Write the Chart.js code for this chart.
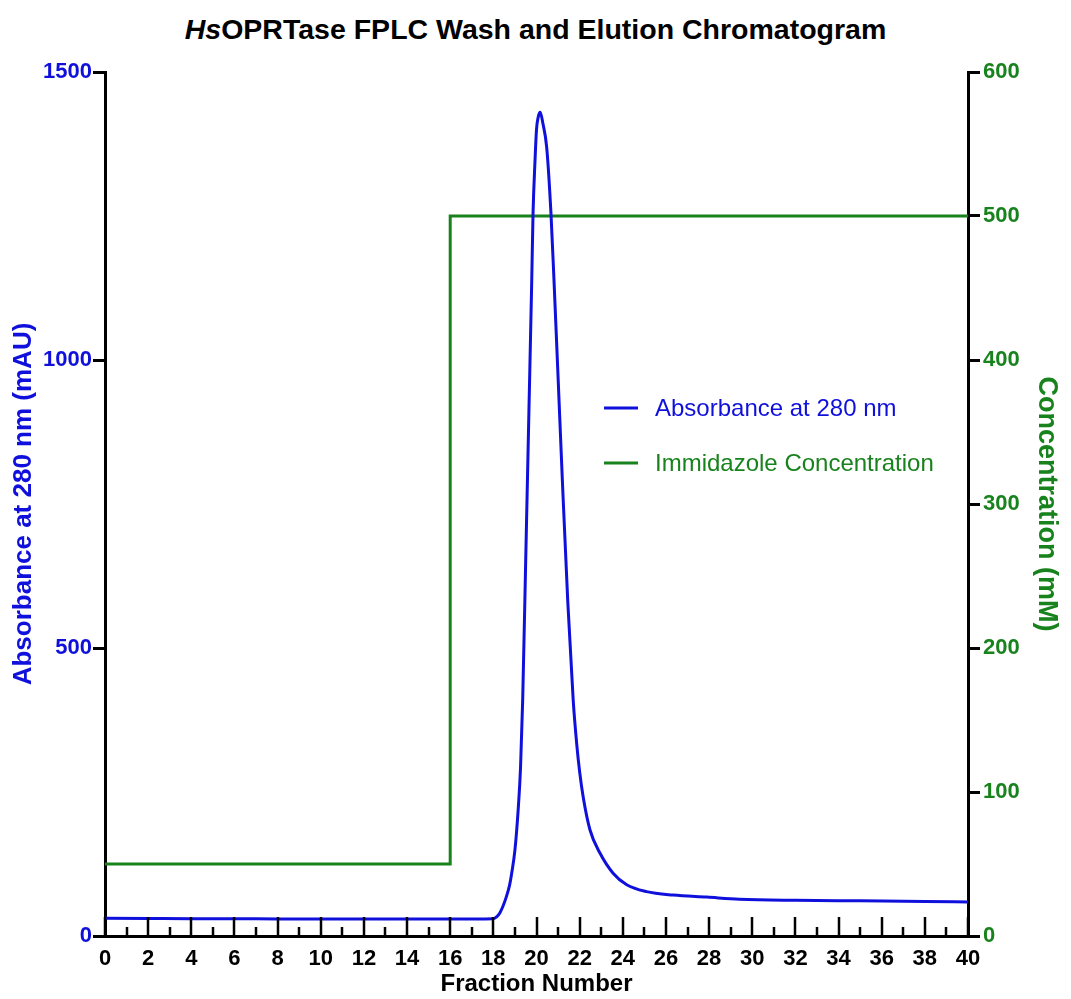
<!DOCTYPE html>
<html>
<head>
<meta charset="utf-8">
<title>HsOPRTase FPLC Wash and Elution Chromatogram</title>
<script src="https://cdn.jsdelivr.net/npm/chart.js@4.4.1/dist/chart.umd.min.js"></script>
<style>
  html, body { margin:0; padding:0; background:#fff; }
  #wrap { position:relative; width:1071px; height:999px; }
  #title {
    position:absolute; left:0; top:13px; width:1071px; text-align:center;
    font:bold 28.5px "Liberation Sans", Arial, sans-serif; color:#000;
  }
  canvas { position:absolute; left:0; top:0; }
</style>
</head>
<body>
<div id="wrap">
  <div id="title"><i>Hs</i>OPRTase FPLC Wash and Elution Chromatogram</div>
  <canvas id="chrom" width="1071" height="999"></canvas>
</div>
<script>
/* fraction numbers and A280 readings along the run */
var fractionX = [0, 2, 4, 6, 8, 10, 12, 14, 16, 18, 18.15, 18.3, 18.45, 18.6, 18.75, 18.85, 19.0,
  19.15, 19.26, 19.36, 19.5, 19.65, 19.78, 19.84, 19.93, 20.0, 20.08, 20.17, 20.3, 20.47, 20.67,
  20.81, 21.0, 21.2, 21.45, 21.7, 21.86, 22.0, 22.17, 22.48, 22.94, 23.55, 24.18, 25.1, 26.33,
  27.9, 29.4, 32, 35, 38, 40];
var absorbance = [31, 30.5, 30, 30, 29.5, 29.5, 29.5, 29.5, 29.5, 30, 33, 40, 52, 68, 88, 109, 149,
  219, 293, 410, 653, 913, 1139, 1255, 1345, 1400, 1422, 1430, 1410, 1370, 1255,
  1139, 970, 790, 580, 410, 335, 285, 240, 184, 144, 109, 89, 77, 71,
  67.5, 64, 62, 61, 60, 59];

/* imidazole step gradient (mM) */
var imidX = [0, 16, 16, 40];
var imidConc = [50, 50, 500, 500];

var leftTicks = [0, 500, 1000, 1500];
var rightTicks = [0, 100, 200, 300, 400, 500, 600];
var xTickStep = 2;

var BLUE = '#1010dc';
var GREEN = '#18821c';
var FONT = '"Liberation Sans", Arial, sans-serif';

function pts(xs, ys){
  return xs.map(function(x, i){ return {x:x, y:ys[i]}; });
}

// inward x ticks: long at even fractions, short at odd ones
var fractionTicks = {
  id:'fractionTicks',
  afterDraw:function(chart){
    var xs = chart.scales.x, ctx = chart.ctx, y0 = chart.chartArea.bottom;
    ctx.save();
    ctx.strokeStyle = '#000';
    ctx.lineWidth = 2.5;
    for(var i = xs.min; i <= xs.max; i++){
      var px = Math.round(xs.getPixelForValue(i));
      var len = (i % 2 === 0) ? 19 : 9;
      ctx.beginPath();
      ctx.moveTo(px, y0);
      ctx.lineTo(px, y0 - len);
      ctx.stroke();
    }
    ctx.restore();
  }
};

// legend sitting inside the plot
var innerLegend = {
  id:'innerLegend',
  afterDraw:function(chart){
    var ctx = chart.ctx;
    ctx.save();
    ctx.font = '24px ' + FONT;
    ctx.textBaseline = 'middle';
    chart.data.datasets.forEach(function(ds, i){
      var y = 408 + i * 55;
      ctx.strokeStyle = ds.borderColor;
      ctx.lineWidth = 3;
      ctx.beginPath();
      ctx.moveTo(604, y);
      ctx.lineTo(638, y);
      ctx.stroke();
      ctx.fillStyle = ds.borderColor;
      ctx.fillText(ds.label, 655, y + 1);
    });
    ctx.restore();
  }
};

new Chart(document.getElementById('chrom'), {
  type:'line',
  data:{
    datasets:[{
      label:'Absorbance at 280 nm',
      data:pts(fractionX, absorbance),
      yAxisID:'y',
      borderColor:BLUE,
      borderWidth:3,
      pointRadius:0,
      cubicInterpolationMode:'monotone',
      fill:false
    },{
      label:'Immidazole Concentration',
      data:pts(imidX, imidConc),
      yAxisID:'y2',
      borderColor:GREEN,
      borderWidth:3,
      pointRadius:0,
      tension:0,
      fill:false
    }]
  },
  options:{
    responsive:false,
    animation:false,
    layout:{padding:{top:72, left:0, right:0, bottom:0}},
    plugins:{
      legend:{display:false},
      tooltip:{enabled:false}
    },
    scales:{
      x:{
        type:'linear',
        min:0, max:40,
        afterFit:function(s){ s.height = 63; },
        afterBuildTicks:function(s){
          var t = [];
          for(var v = 0; v <= 40; v += xTickStep) t.push({value:v});
          s.ticks = t;
        },
        grid:{display:true, drawOnChartArea:false, drawTicks:false},
        border:{display:true, color:'#000', width:3},
        ticks:{color:'#000', padding:10, maxRotation:0, autoSkip:false,
               font:{family:FONT, size:22, weight:'bold'},
               callback:function(v){ return String(v); }},
        title:{display:true, text:'Fraction Number', color:'#000', padding:{top:0, bottom:0},
               font:{family:FONT, size:24, weight:'bold'}}
      },
      y:{
        type:'linear', position:'left',
        min:0, max:1500,
        afterFit:function(s){ s.width = 105; },
        afterBuildTicks:function(s){ s.ticks = leftTicks.map(function(v){ return {value:v}; }); },
        grid:{display:true, drawOnChartArea:false, drawTicks:true, tickLength:12, color:'#000', lineWidth:3},
        border:{display:true, color:'#000', width:3},
        ticks:{color:BLUE, padding:1, font:{family:FONT, size:22, weight:'bold'},
               callback:function(v){ return String(v); }},
        title:{display:true, text:'Absorbance at 280 nm (mAU)', color:BLUE, padding:{top:8, bottom:0},
               font:{family:FONT, size:26, weight:'bold'}}
      },
      y2:{
        type:'linear', position:'right',
        min:0, max:600,
        afterFit:function(s){ s.width = 103; },
        afterBuildTicks:function(s){ s.ticks = rightTicks.map(function(v){ return {value:v}; }); },
        grid:{display:true, drawOnChartArea:false, drawTicks:true, tickLength:12, color:'#000', lineWidth:3},
        border:{display:true, color:'#000', width:3},
        ticks:{color:GREEN, padding:3, font:{family:FONT, size:22, weight:'bold'},
               callback:function(v){ return String(v); }},
        title:{display:true, text:'Concentration (mM)', color:GREEN, padding:{top:8, bottom:0},
               font:{family:FONT, size:27, weight:'bold'}}
      }
    }
  },
  plugins:[fractionTicks, innerLegend]
});
</script>
</body>
</html>
